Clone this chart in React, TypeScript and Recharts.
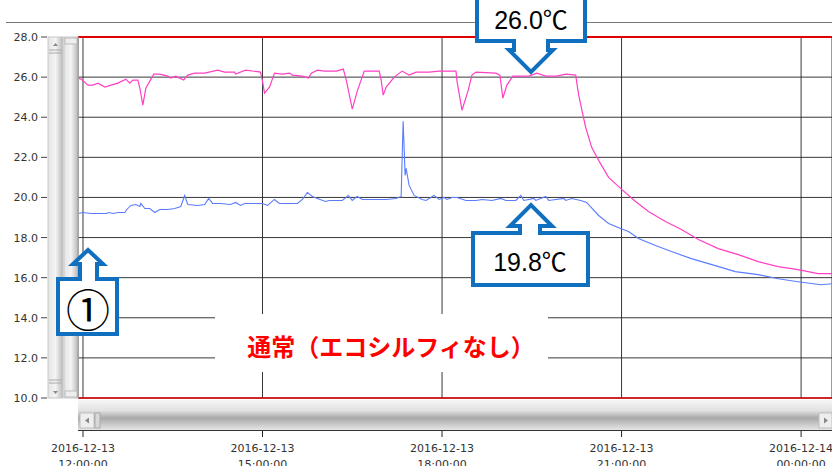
import React from "react";
import {
  LineChart,
  Line,
  XAxis,
  YAxis,
  CartesianGrid,
  ReferenceLine,
} from "recharts";

// minutes after 2016-12-13 12:00:00, temperature in °C
const pinkSeries: [number, number][] = [
  [-5, 25.95], [-2, 25.9], [5, 25.6], [10, 25.6], [15, 25.7], [22, 25.5],
  [28, 25.6], [35, 25.7], [43, 25.9], [47, 25.7], [50, 25.85], [55, 25.85],
  [57, 25.45], [60, 24.6], [63, 25.45], [67, 25.8], [71, 26.15], [77, 26.15],
  [85, 26.05], [88, 25.95], [93, 26.05], [97, 25.95], [101, 25.85], [105, 26.1],
  [112, 26.2], [122, 26.2], [135, 26.35], [142, 26.25], [152, 26.25], [153, 26.15],
  [163, 26.35], [178, 26.25], [180, 25.8], [182, 25.2], [187, 25.5], [192, 26.2],
  [200, 26.15], [207, 26.2], [210, 26.1], [220, 26.05], [226, 25.95], [229, 26.2],
  [235, 26.35], [242, 26.3], [254, 26.3], [261, 26.4], [264, 25.85], [270, 24.4],
  [275, 25.3], [282, 26.3], [297, 26.3], [299, 25.85], [301, 25.1], [304, 25.5],
  [312, 26.0], [320, 26.3], [327, 26.1], [334, 26.25], [347, 26.25], [357, 26.3],
  [374, 26.3], [375, 25.8], [380, 24.35], [386, 25.3], [390, 26.1], [394, 26.25],
  [414, 26.2], [418, 26.1], [421, 24.95], [425, 25.6], [431, 26.05], [439, 26.05],
  [447, 26.05], [455, 26.2], [464, 26.05], [475, 26.05], [484, 26.15], [494, 26.1],
  [497, 25.1], [500, 24.4], [504, 23.5], [510, 22.5], [517, 21.85], [527, 21.0],
  [539, 20.45], [554, 19.8], [567, 19.3], [584, 18.8], [600, 18.4], [617, 17.9],
  [637, 17.45], [657, 17.15], [677, 16.8], [697, 16.55], [717, 16.4], [737, 16.2],
  [751, 16.2],
];

const blueSeries: [number, number][] = [
  [-5, 19.2], [0, 19.25], [8, 19.2], [23, 19.2], [26, 19.25], [30, 19.2],
  [35, 19.25], [42, 19.25], [44, 19.4], [48, 19.6], [53, 19.65], [57, 19.55],
  [58, 19.7], [62, 19.45], [67, 19.45], [72, 19.25], [77, 19.4], [85, 19.4],
  [92, 19.45], [98, 19.55], [102, 20.1], [105, 19.65], [115, 19.6], [122, 19.65],
  [126, 19.95], [130, 19.7], [138, 19.7], [148, 19.65], [153, 19.75], [158, 19.6],
  [162, 19.7], [168, 19.7], [180, 19.7], [185, 19.6], [192, 19.9], [197, 19.7],
  [207, 19.7], [215, 19.7], [220, 19.9], [225, 20.25], [230, 20.05], [235, 19.95],
  [243, 19.8], [247, 19.85], [260, 19.85], [266, 20.1], [270, 19.85], [275, 20.05],
  [280, 19.9], [294, 19.9], [304, 19.9], [314, 19.95], [319, 20.05], [321, 23.8],
  [323, 21.1], [324, 21.45], [327, 20.6], [332, 20.1], [340, 19.9], [344, 19.85],
  [352, 20.1], [357, 19.9], [362, 20.0], [365, 19.9], [370, 20.0], [375, 20.0],
  [384, 19.85], [394, 19.85], [400, 19.9], [410, 19.85], [419, 19.95], [424, 19.85],
  [434, 19.85], [439, 20.1], [442, 19.85], [452, 19.95], [454, 19.85], [464, 20.05],
  [467, 19.85], [482, 19.95], [484, 19.85], [490, 19.95], [499, 19.85], [505, 19.75],
  [517, 19.1], [527, 18.7], [539, 18.45], [547, 18.3], [557, 17.95], [574, 17.6],
  [590, 17.3], [610, 16.95], [634, 16.6], [654, 16.3], [677, 16.15], [697, 15.95],
  [717, 15.8], [740, 15.65], [751, 15.7],
];

const xTicks = [0, 180, 360, 540, 720];
const yTicks = [10, 12, 14, 16, 18, 20, 22, 24, 26, 28];
const upperLimit = 28;
const lowerLimit = 10;

const topCallout = "26.0℃";
const bottomCallout = "19.8℃";
const markerLabel = "①";
const noteText = "通常（エコシルフィなし）";

const START = Date.UTC(2016, 11, 13, 12, 0, 0);
const pad = (n: number) => String(n).padStart(2, "0");

const pinkData = pinkSeries.map(([t, v]) => ({ t, v }));
const blueData = blueSeries.map(([t, v]) => ({ t, v }));

const axisFont = { fontFamily: "'DejaVu Sans', sans-serif", fontSize: 11, fill: "#333" };

const XTick = ({ x, payload }: any) => {
  const d = new Date(START + payload.value * 60000);
  const date = `${d.getUTCFullYear()}-${pad(d.getUTCMonth() + 1)}-${pad(d.getUTCDate())}`;
  const time = `${pad(d.getUTCHours())}:${pad(d.getUTCMinutes())}:${pad(d.getUTCSeconds())}`;
  return (
    <g>
      <line x1={x} x2={x} y1={430} y2={437} stroke="#222" />
      <text x={x} y={452} textAnchor="middle" {...axisFont}>
        {date}
      </text>
      <text x={x} y={468} textAnchor="middle" {...axisFont}>
        {time}
      </text>
    </g>
  );
};

const YTick = ({ y, payload }: any) => (
  <g>
    <text x={38} y={y + 4} textAnchor="end" {...axisFont}>
      {payload.value.toFixed(1)}
    </text>
    <line x1={41} x2={47} y1={y} y2={y} stroke="#444" />
  </g>
);

const blue = "#1070bf";

const Overlay = () => (
  <svg
    width={832}
    height={466}
    style={{ position: "absolute", left: 0, top: 0, pointerEvents: "none" }}
  >
    <defs>
      <linearGradient id="hbar" x1="0" y1="0" x2="0" y2="1">
        <stop offset="0" stopColor="#f6f6f6" />
        <stop offset="0.35" stopColor="#e2e2e2" />
        <stop offset="0.6" stopColor="#a9a9a9" />
        <stop offset="1" stopColor="#e6e6e6" />
      </linearGradient>
      <linearGradient id="vbar" x1="0" y1="0" x2="1" y2="0">
        <stop offset="0" stopColor="#e4e4e4" />
        <stop offset="0.5" stopColor="#f4f4f4" />
        <stop offset="1" stopColor="#b8b8b8" />
      </linearGradient>
    </defs>

    {/* header rule */}
    <line x1={6} x2={832} y1={22.5} y2={22.5} stroke="#777" />

    {/* left scroll bars */}
    <rect x={48} y={37} width={15} height={361} fill="url(#vbar)" stroke="#c8c8c8" />
    <rect x={64} y={37} width={14} height={361} fill="url(#vbar)" stroke="#c8c8c8" />
    <path d="M53,46 L58,46 L55.5,43 Z" fill="#888" />
    <line x1={49} x2={62} y1={50} y2={50} stroke="#aaa" />
    <line x1={49} x2={62} y1={53} y2={53} stroke="#aaa" />
    <line x1={49} x2={62} y1={380} y2={380} stroke="#aaa" />
    <line x1={49} x2={62} y1={383} y2={383} stroke="#aaa" />
    <path d="M53,391 L58,391 L55.5,394 Z" fill="#888" />
    <rect x={65} y={38} width={12} height={6} fill="#eee" stroke="#bbb" />
    <rect x={65} y={391} width={12} height={6} fill="#eee" stroke="#bbb" />
    <line x1={78} x2={78} y1={37} y2={398} stroke="#999" />

    {/* bottom scroll bar */}
    <rect x={78} y={400} width={754} height={30} fill="url(#hbar)" />
    <rect x={80} y={413} width={14} height={15} fill="#eeeeee" stroke="#c0c0c0" />
    <path d="M89,417.5 L89,423.5 L85,420.5 Z" fill="#888" />
    <rect x={95} y={413} width={5} height={15} fill="#d8d8d8" stroke="#aaa" />
    <rect x={819} y={413} width={13} height={15} fill="#eeeeee" stroke="#c0c0c0" />
    <path d="M824,417.5 L824,423.5 L828,420.5 Z" fill="#888" />
    <line x1={78} x2={832} y1={430.5} y2={430.5} stroke="#333" />

    {/* note */}
    <rect x={215} y={314} width={333} height={58} fill="#fff" />
    <text
      x={391}
      y={345}
      textAnchor="middle"
      dominantBaseline="central"
      fontFamily="'Noto Sans CJK JP', sans-serif"
      fontWeight="bold"
      fontSize={24}
      fill="#ff0000"
    >
      {noteText}
    </text>

    {/* callouts */}
    <path
      d="M477,-5 L585,-5 L585,41 L548,41 L548,50 L553,50 L531,72 L509,50 L514,50 L514,41 L477,41 Z"
      fill="#fff"
      stroke={blue}
      strokeWidth={4}
      strokeLinejoin="miter"
    />
    <text
      x={531}
      y={29}
      textAnchor="middle"
      fontFamily="'Liberation Sans', 'Noto Sans CJK JP', sans-serif"
      fontSize={25}
      fill="#000"
    >
      {topCallout}
    </text>

    <path
      d="M473,233 L520,233 L520,226 L510,226 L531,205 L552,226 L540,226 L540,233 L588,233 L588,285 L473,285 Z"
      fill="#fff"
      stroke={blue}
      strokeWidth={4}
    />
    <text
      x={530}
      y={271}
      textAnchor="middle"
      fontFamily="'Liberation Sans', 'Noto Sans CJK JP', sans-serif"
      fontSize={25}
      fill="#000"
    >
      {bottomCallout}
    </text>

    <path
      d="M58,279 L80,279 L80,264 L73,264 L88,250 L103,264 L97,264 L97,279 L117,279 L117,334 L58,334 Z"
      fill="#fff"
      stroke={blue}
      strokeWidth={4}
    />
    <text
      x={88}
      y={308}
      textAnchor="middle"
      dominantBaseline="central"
      fontFamily="'Noto Sans CJK JP', sans-serif"
      fontSize={44}
      fill="#000"
    >
      {markerLabel}
    </text>
  </svg>
);

export default function App() {
  return (
    <div
      style={{
        position: "absolute",
        left: 0,
        top: 0,
        width: 832,
        height: 466,
        overflow: "hidden",
        background: "#fff",
      }}
    >
      <LineChart
        width={832}
        height={466}
        margin={{ top: 37, right: 0, bottom: 0, left: 0 }}
      >
        <CartesianGrid stroke="#222" strokeOpacity={0.9} />
        <XAxis
          type="number"
          dataKey="t"
          domain={[-5, 751]}
          ticks={xTicks}
          height={68}
          axisLine={false}
          tickLine={false}
          tick={XTick}
          allowDataOverflow
        />
        <YAxis
          type="number"
          domain={[lowerLimit, upperLimit]}
          ticks={yTicks}
          width={78}
          axisLine={false}
          tickLine={false}
          tick={YTick}
          allowDataOverflow
        />
        <ReferenceLine y={upperLimit} stroke="#e00000" strokeWidth={2} />
        <ReferenceLine y={lowerLimit} stroke="#e00000" strokeWidth={1.5} />
        <Line
          data={pinkData}
          dataKey="v"
          stroke="#ff3fc4"
          strokeWidth={1.2}
          dot={false}
          type="linear"
          isAnimationActive={false}
        />
        <Line
          data={blueData}
          dataKey="v"
          stroke="#5a7cff"
          strokeWidth={1.1}
          dot={false}
          type="linear"
          isAnimationActive={false}
        />
      </LineChart>
      <Overlay />
    </div>
  );
}
